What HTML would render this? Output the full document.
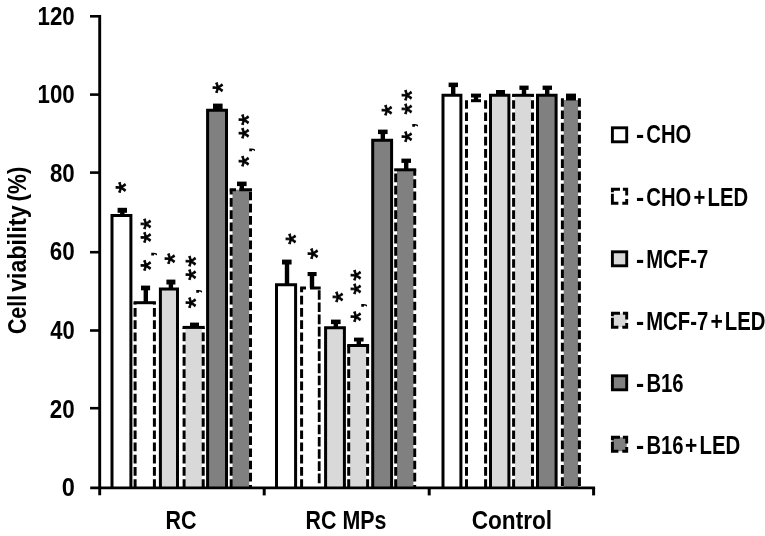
<!DOCTYPE html>
<html lang="en"><head><meta charset="utf-8"><title>Cell viability chart</title>
<style>.st{stroke:#000;stroke-width:.8px}html,body{margin:0;padding:0;background:#fff}svg{display:block}text{font-family:"Liberation Sans",sans-serif;fill:#000}</style>
</head><body>
<svg width="765" height="536" viewBox="0 0 765 536">
<rect x="0" y="0" width="765" height="536" fill="#fff"/>
<g stroke="#000" stroke-width="3" stroke-linejoin="miter" fill="none">
<path d="M112 488V215.5H130.9V488" fill="#ffffff"/>
<path d="M133.6 302.7H155.9"/>
<path d="M135.1 488V302.7" stroke-dasharray="8.7 3.53"/>
<path d="M154.4 488V302.7" stroke-dasharray="8.7 3.53"/>
<path d="M160.4 488V289.1H177.5V488" fill="#d9d9d9"/>
<rect x="185.4" y="327.4" width="16.5" height="160.6" fill="#d9d9d9" stroke="none"/>
<path d="M182.6 327.4H204.7"/>
<path d="M184.1 488V327.4" stroke-dasharray="8.7 3.53"/>
<path d="M203.2 488V327.4" stroke-dasharray="8.7 3.53"/>
<path d="M207.6 488V110.3H226.5V488" fill="#808080"/>
<rect x="232.5" y="189.7" width="16.7" height="298.3" fill="#808080" stroke="none"/>
<path d="M229.7 189.7H236M239.3 189.7H252"/>
<path d="M231.2 488V189.7" stroke-dasharray="8.7 3.53"/>
<path d="M250.5 488V189.7" stroke-dasharray="8.7 3.53" stroke-dashoffset="5.8"/>
<path d="M276.5 488V284.7H295.6V488" fill="#ffffff"/>
<path d="M300.1 287.9H306M310 287.9H320.7"/>
<path d="M301.6 488V287.9" stroke-dasharray="8.7 3.53"/>
<path d="M319.2 483.2V287.9" stroke-width="2.8" stroke-dasharray="9.6 2.63"/>
<path d="M325.6 488V327.7H344.4V488" fill="#d9d9d9"/>
<rect x="350" y="345.5" width="16.3" height="142.5" fill="#d9d9d9" stroke="none"/>
<path d="M347.2 345.5H369.1"/>
<path d="M348.7 488V345.5" stroke-dasharray="8.7 3.53"/>
<path d="M367.6 488V345.5" stroke-dasharray="8.7 3.53"/>
<path d="M372.7 488V140.3H391.6V488" fill="#808080"/>
<rect x="397" y="169.8" width="16.4" height="318.2" fill="#808080" stroke="none"/>
<path d="M394.2 169.8H416.2"/>
<path d="M395.7 488V169.8" stroke-dasharray="8.7 3.53"/>
<path d="M414.7 488V169.8" stroke-dasharray="8.7 3.53" stroke-dashoffset="5.8"/>
<path d="M443 488V95.3H460.9V488" fill="#ffffff"/>
<path d="M466.5 488V99" stroke-dasharray="8.7 3.53"/>
<path d="M485.6 488V99" stroke-dasharray="8.7 3.53"/>
<path d="M490.5 488V95.3H508.9V488" fill="#d9d9d9"/>
<rect x="514.9" y="95.3" width="16.3" height="392.7" fill="#d9d9d9" stroke="none"/>
<path d="M512.1 95.3H534"/>
<path d="M513.6 488V95.3" stroke-dasharray="8.7 3.53"/>
<path d="M532.5 488V95.3" stroke-dasharray="8.7 3.53"/>
<path d="M537.5 488V95.3H556.1V488" fill="#808080"/>
<rect x="563.7" y="100" width="14.4" height="388" fill="#808080" stroke="none"/>
<path d="M562.4 488V98" stroke-dasharray="8.7 3.53" stroke-dashoffset="10.23"/>
<path d="M579.4 488V98" stroke-dasharray="8.7 3.53" stroke-dashoffset="10.23"/>
</g>
<g fill="#000">
<rect x="117.6" y="207.8" width="9.4" height="5"/>
<rect x="120.1" y="211.8" width="4.4" height="3.7"/>
<rect x="141" y="285.6" width="9.1" height="4.7"/>
<rect x="143.6" y="289.3" width="4.4" height="13.4"/>
<rect x="166.4" y="279.6" width="9" height="4.9"/>
<rect x="168.7" y="283.5" width="4.4" height="5.6"/>
<rect x="190" y="322.6" width="9" height="4.1"/>
<rect x="192.3" y="325.7" width="4.4" height="1.7"/>
<rect x="213" y="103.6" width="9.6" height="5.9"/>
<rect x="215.6" y="108.5" width="4.4" height="1.8"/>
<rect x="237" y="181.6" width="9.6" height="4.5"/>
<rect x="239.6" y="185.1" width="4.4" height="4.6"/>
<rect x="282" y="259.6" width="9.6" height="4.9"/>
<rect x="284.8" y="263.5" width="4.4" height="21.2"/>
<rect x="307.6" y="272" width="9" height="4.1"/>
<rect x="309.8" y="275.1" width="4.4" height="12.8"/>
<rect x="331" y="319.6" width="9.6" height="4.5"/>
<rect x="333.6" y="323.1" width="4.4" height="4.6"/>
<rect x="354" y="337.6" width="9.6" height="3.9"/>
<rect x="356.6" y="340.5" width="4.4" height="5"/>
<rect x="378" y="129.6" width="9.6" height="4.5"/>
<rect x="380.6" y="133.1" width="4.4" height="7.2"/>
<rect x="401.4" y="158.6" width="9.6" height="4.3"/>
<rect x="404" y="161.9" width="4.4" height="7.9"/>
<rect x="448.6" y="82.6" width="9.4" height="4.5"/>
<rect x="451" y="86.1" width="4.4" height="9.2"/>
<rect x="471" y="93.6" width="10" height="3.9"/>
<rect x="473.8" y="96.5" width="4.4" height="3.5"/>
<rect x="471" y="99.2" width="10" height="3"/>
<rect x="496" y="90" width="9" height="4.5"/>
<rect x="498.3" y="93.5" width="4.4" height="1.8"/>
<rect x="519.4" y="85.6" width="9.2" height="4.3"/>
<rect x="521.8" y="88.9" width="4.4" height="6.4"/>
<rect x="542.6" y="85.6" width="9.4" height="4.3"/>
<rect x="545" y="88.9" width="4.4" height="6.4"/>
<rect x="566" y="93.6" width="10" height="6.9"/>
</g>
<g stroke="#000" stroke-width="2.6" fill="none" stroke-linecap="butt">
<path d="M99.7 15.1V495.3" stroke-width="2.9"/>
<path d="M90.2 487.9H595.1" stroke-width="2.8"/>
<path d="M90 16.3H99.6"/>
<path d="M90 94.6H99.6"/>
<path d="M90 172.6H99.6"/>
<path d="M90 252.2H99.6"/>
<path d="M90 330.5H99.6"/>
<path d="M90 408.2H99.6"/>
<path d="M264.2 488V495.4" stroke-width="3"/>
<path d="M429.2 488V495.4" stroke-width="3"/>
<path d="M593.6 488V495.4" stroke-width="3"/>
</g>
<text transform="translate(61.67 496.10) scale(0.9420 1)" font-size="25" font-weight="bold">0</text>
<text transform="translate(49.82 417.52) scale(0.8952 1)" font-size="25" font-weight="bold">20</text>
<text transform="translate(50.27 338.94) scale(0.8787 1)" font-size="25" font-weight="bold">40</text>
<text transform="translate(49.78 260.36) scale(0.8969 1)" font-size="25" font-weight="bold">60</text>
<text transform="translate(49.89 181.78) scale(0.8927 1)" font-size="25" font-weight="bold">80</text>
<text transform="translate(37.49 103.20) scale(0.8923 1)" font-size="25" font-weight="bold">100</text>
<text transform="translate(37.49 24.62) scale(0.8923 1)" font-size="25" font-weight="bold">120</text>
<text transform="translate(165.56 529.00) scale(0.8592 1)" font-size="25" font-weight="bold">RC</text>
<text transform="translate(305.57 529.00) scale(0.8566 1)" font-size="25" font-weight="bold">RC MPs</text>
<text transform="translate(471.67 529.00) scale(0.9062 1)" font-size="25" font-weight="bold">Control</text>
<text transform="translate(25.90 334.08) rotate(-90) scale(0.8219 1)" font-size="26" font-weight="bold">Cell</text>
<text transform="translate(25.90 291.79) rotate(-90) scale(0.8926 1)" font-size="26" font-weight="bold">viability</text>
<text transform="translate(25.90 201.42) rotate(-90) scale(0.8614 1)" font-size="26" font-weight="bold">(%)</text>
<text transform="translate(135.31 193.05) rotate(-90)" font-size="28.5" class="st">*</text>
<text transform="translate(184.11 264.25) rotate(-90)" font-size="28.5" class="st">*</text>
<text transform="translate(232.11 93.25) rotate(-90)" font-size="28.5" class="st">*</text>
<text transform="translate(305.11 244.45) rotate(-90)" font-size="28.5" class="st">*</text>
<text transform="translate(327.31 259.25) rotate(-90)" font-size="28.5" class="st">*</text>
<text transform="translate(352.11 302.55) rotate(-90)" font-size="28.5" class="st">*</text>
<text transform="translate(401.11 115.65) rotate(-90)" font-size="28.5" class="st">*</text>
<text transform="translate(159.91 229.45) rotate(-90)" font-size="28.5" class="st">*</text>
<text transform="translate(159.91 243.00) rotate(-90)" font-size="28.5" class="st">*</text>
<text transform="translate(159.91 270.90) rotate(-90)" font-size="28.5" class="st">*</text>
<text transform="translate(154.09 256.65) rotate(-90)" font-size="19" font-weight="bold">,</text>
<text transform="translate(204.91 266.75) rotate(-90)" font-size="28.5" class="st">*</text>
<text transform="translate(204.91 280.30) rotate(-90)" font-size="28.5" class="st">*</text>
<text transform="translate(204.91 308.20) rotate(-90)" font-size="28.5" class="st">*</text>
<text transform="translate(199.09 293.95) rotate(-90)" font-size="19" font-weight="bold">,</text>
<text transform="translate(257.81 125.20) rotate(-90)" font-size="28.5" class="st">*</text>
<text transform="translate(257.81 138.75) rotate(-90)" font-size="28.5" class="st">*</text>
<text transform="translate(257.81 166.65) rotate(-90)" font-size="28.5" class="st">*</text>
<text transform="translate(251.99 152.40) rotate(-90)" font-size="19" font-weight="bold">,</text>
<text transform="translate(369.91 280.85) rotate(-90)" font-size="28.5" class="st">*</text>
<text transform="translate(369.91 294.40) rotate(-90)" font-size="28.5" class="st">*</text>
<text transform="translate(369.91 322.30) rotate(-90)" font-size="28.5" class="st">*</text>
<text transform="translate(364.09 308.05) rotate(-90)" font-size="19" font-weight="bold">,</text>
<text transform="translate(420.51 100.85) rotate(-90)" font-size="28.5" class="st">*</text>
<text transform="translate(420.51 114.40) rotate(-90)" font-size="28.5" class="st">*</text>
<text transform="translate(420.51 142.30) rotate(-90)" font-size="28.5" class="st">*</text>
<text transform="translate(414.69 128.05) rotate(-90)" font-size="19" font-weight="bold">,</text>
<rect x="612.4" y="127.8" width="14.3" height="14" fill="#ffffff" stroke="#000" stroke-width="2.9"/>
<text transform="translate(636.05 143.40) scale(0.9767 1)" font-size="25" font-weight="bold">-</text>
<text transform="translate(646.27 143.40) scale(0.8097 1)" font-size="25" font-weight="bold">CHO</text>
<path d="M612.4 192.3V189.3H620M622.9 189.3H626.7V195.4M626.7 199V203.3H622.3M618.4 203.3H612.4V193.8" fill="none" stroke="#000" stroke-width="2.9"/>
<text transform="translate(636.05 205.50) scale(0.9767 1)" font-size="25" font-weight="bold">-</text>
<text transform="translate(646.27 205.50) scale(0.8097 1)" font-size="25" font-weight="bold">CHO</text>
<text transform="translate(693.55 205.50) scale(0.8136 1)" font-size="25" font-weight="bold">+</text>
<text transform="translate(707.54 205.50) scale(0.8122 1)" font-size="25" font-weight="bold">LED</text>
<rect x="612.4" y="251.8" width="14.3" height="14" fill="#d9d9d9" stroke="#000" stroke-width="2.9"/>
<text transform="translate(636.05 267.60) scale(0.9767 1)" font-size="25" font-weight="bold">-</text>
<text transform="translate(646.24 267.60) scale(0.8110 1)" font-size="25" font-weight="bold">MCF-7</text>
<rect x="612.4" y="313.3" width="14.3" height="14" fill="#d9d9d9"/>
<path d="M612.4 316.3V313.3H620M622.9 313.3H626.7V319.4M626.7 323V327.3H622.3M618.4 327.3H612.4V317.8" fill="none" stroke="#000" stroke-width="2.9"/>
<text transform="translate(636.05 329.70) scale(0.9767 1)" font-size="25" font-weight="bold">-</text>
<text transform="translate(646.24 329.70) scale(0.8110 1)" font-size="25" font-weight="bold">MCF-7</text>
<text transform="translate(710.61 329.70) scale(0.8455 1)" font-size="25" font-weight="bold">+</text>
<text transform="translate(724.84 329.70) scale(0.8122 1)" font-size="25" font-weight="bold">LED</text>
<rect x="612.4" y="375.8" width="14.3" height="14" fill="#808080" stroke="#000" stroke-width="2.9"/>
<text transform="translate(636.05 391.80) scale(0.9767 1)" font-size="25" font-weight="bold">-</text>
<text transform="translate(646.44 391.80) scale(0.8109 1)" font-size="25" font-weight="bold">B16</text>
<rect x="612.4" y="437.3" width="14.3" height="14" fill="#808080"/>
<path d="M612.4 440.3V437.3H620M622.9 437.3H626.7V443.4M626.7 447V451.3H622.3M618.4 451.3H612.4V441.8" fill="none" stroke="#000" stroke-width="2.9"/>
<text transform="translate(636.05 453.90) scale(0.9767 1)" font-size="25" font-weight="bold">-</text>
<text transform="translate(646.44 453.90) scale(0.8109 1)" font-size="25" font-weight="bold">B16</text>
<text transform="translate(685.12 453.90) scale(0.8375 1)" font-size="25" font-weight="bold">+</text>
<text transform="translate(699.43 453.90) scale(0.8165 1)" font-size="25" font-weight="bold">LED</text>
</svg>
</body></html>
